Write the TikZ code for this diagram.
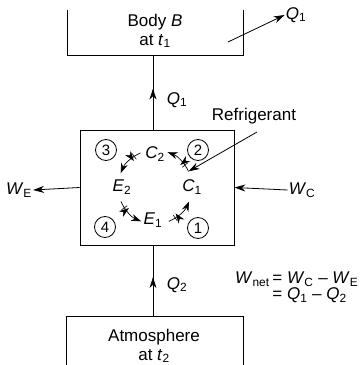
\documentclass[tikz,border=0pt]{standalone}
\usepackage{fontspec}
\setmainfont{Liberation Sans}
\usepackage{tikz}
\usetikzlibrary{arrows.meta,calc,positioning,decorations.markings}
\newcommand{\qty}[2]{\textit{#1}\textsubscript{#2}}
\tikzset{
  lbl/.style={font=\fontsize{17}{19}\selectfont,inner sep=1pt,align=center},
  state/.style={circle,draw=black,line width=0.8pt,minimum size=21pt,inner sep=0pt,
    font=\fontsize{15}{17}\selectfont},
  flow/.style={-{Stealth[length=11pt,width=7pt]},line width=0.8pt},
  midflow/.style={line width=0.8pt,decoration={markings,
    mark=at position 0.55 with {\arrow{Stealth[length=11pt,width=7pt]}}},postaction={decorate}},
  cyc/.style={-{Stealth[length=10pt,width=7pt]},line width=0.7pt,decoration={markings,
    mark=at position 0.3 with {\draw[line width=0.6pt] (-1.5pt,-3.5pt) -- (-1.5pt,3.5pt) (1.5pt,-3.5pt) -- (1.5pt,3.5pt);}},
    postaction={decorate}},
  wall/.style={line width=0.8pt}
}
\begin{document}
\begin{tikzpicture}[x=1pt,y=1pt]
  \useasboundingbox (0,0) rectangle (362,365);
  % reservoirs
  \draw[wall] (67,355) -- (67,310) -- (243,310) -- (243,355);
  \node[lbl] (body) at (155,334) {Body \textit{B}\\at \qty{t}{1}};
  \coordinate (bodyin) at (153,310);
  \draw[wall] (66,0) -- (66,49) -- (243,49) -- (243,0);
  \node[lbl] (atm) at (154,19) {Atmosphere\\at \qty{t}{2}};
  \coordinate (atmout) at (153,49);
  % refrigerator
  \node[draw,wall,minimum width=154pt,minimum height=115pt,inner sep=0pt] (fridge) at (157,177.5) {};
  \coordinate (ftop) at (fridge.north -| bodyin);
  \coordinate (fbot) at (fridge.south -| atmout);
  \draw[midflow] (ftop) -- (bodyin);
  \draw[midflow] (atmout) -- (fbot);
  \node[lbl] (q1in) at (177,265) {\qty{Q}{1}};
  \node[lbl] (q2) at (177,80) {\qty{Q}{2}};
  % heat out of body B
  \coordinate (qs) at (228,323);
  \node[lbl] (q1out) at (296,350) {\qty{Q}{1}};
  \draw[flow] (qs) -- (q1out.west);
  % work
  \node[lbl] (we) at (19,175) {\qty{W}{E}};
  \node[lbl] (wc) at (302,175) {\qty{W}{C}};
  \draw[flow] (fridge.west) -- (we.east);
  \draw[flow] (wc.west) -- (fridge.east);
  % cycle
  \coordinate (ctr) at (155,178);
  \node[lbl] (c2) at (155,211) {\qty{C}{2}};
  \node[lbl] (e2) at (122,178) {\qty{E}{2}};
  \node[lbl] (c1) at (192,178) {\qty{C}{1}};
  \node[lbl] (e1) at (153,145) {\qty{E}{1}};
  \foreach \a in {25,113,203,292}
    \draw[cyc] ([shift={(\a:37)}]ctr) arc[start angle=\a,end angle=\a+45,radius=37];
  \node[state] (s3) at (106,215) {3};
  \node[state] (s2) at (198,215) {2};
  \node[state] (s4) at (105,138) {4};
  \node[state] (s1) at (198,137) {1};
  % refrigerant pointer
  \node[lbl] (refr) at (254,249) {Refrigerant};
  \draw[flow] (257,233) -- ([shift={(25:37)}]ctr);
  % balance
  \node[lbl,anchor=west] (bal) at (234,77) {\begin{tabular}{@{}r@{\,}l@{}}
    \qty{W}{net} & = \qty{W}{C} -- \qty{W}{E}\\[-3pt]
                 & = \qty{Q}{1} -- \qty{Q}{2}\end{tabular}};
\end{tikzpicture}
\end{document}
